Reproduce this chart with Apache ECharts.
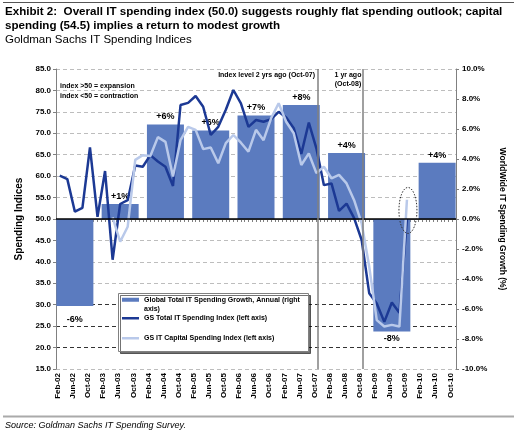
<!DOCTYPE html>
<html><head><meta charset="utf-8">
<script src="https://cdn.jsdelivr.net/npm/echarts@6/dist/echarts.min.js"></script>
<style>html,body{margin:0;padding:0;background:#fff}#c{width:517px;height:436px}</style>
</head><body><div id="c"></div>
<script>
// ---------- data ----------
const monthNames = ['Jan','Feb','Mar','Apr','May','Jun','Jul','Aug','Sep','Oct','Nov','Dec'];
const months = [];               // Feb-02 .. Nov-10
for (let y = 2; y <= 10; y++) for (let m = 0; m < 12; m++) {
  if (y === 2 && m === 0) continue;
  if (y === 10 && m === 11) continue;
  months.push(monthNames[m] + '-' + String(y).padStart(2, '0'));
}
// bi-monthly survey readings, Feb-02 .. Oct-09
const surveyMonths = months.filter((m, i) => i % 2 === 0 && i <= 92);
const totalIndex = [60.1,59.3,51.7,52.6,66.7,50.5,61.2,40.5,53.5,54.4,62.5,62.2,64.9,63.4,62.2,57.7,
  76.6,77.1,78.7,76.2,69.6,71.5,75.5,80.1,77.0,71.5,73.1,72.7,73.3,75.0,73.7,71.2,65.2,72.5,66.5,
  57.9,58.3,51.9,53.6,50.2,45.1,32.7,30.3,26.0,30.5,28.1,50.0];
const capitalMonths = surveyMonths.slice(7);   // Apr-03 .. Oct-09
const capitalIndex = [50.4,44.7,48.2,63.8,64.9,64.7,69.1,68.0,59.9,68.4,71.5,70.8,66.3,66.7,63.0,
  67.7,69.6,67.8,65.7,70.8,68.4,73.5,77.0,72.7,70.0,62.6,65.3,60.7,62.2,59.5,60.3,58.3,54.4,49.0,
  38.9,26.4,24.9,25.3,24.9,54.5];
const years = ['2002','2003','2004','2005','2006','2007','2008','2009','2010'];
const growth = [-5.8,1.0,6.3,5.9,6.9,7.6,4.4,-7.5,3.75];
const growthLabels = ['-6%','+1%','+6%','+6%','+7%','+8%','+4%','-8%','+4%'];
const markerMonths = ['Oct-07','Oct-08'];

const leftTicks = {min: 15, max: 85, interval: 5};
const rightTicks = {min: -10, max: 10, interval: 2};

// ---------- styles ----------
const FONT = '"Liberation Sans", Arial, sans-serif';
const BAR = '#5b7bbf', DARK = '#1c3994', LIGHT = '#b9c9ea';
const names = ['Global Total IT Spending Growth, Annual (right axis)',
  'GS Total IT Spending Index (left axis)', 'GS IT Capital Spending Index (left axis)'];

const endOfMonth = m => months.indexOf(m) + 1;
const barData = years.map((y, i) => ({
  value: [months.indexOf('Jul-' + y.slice(2)), growth[i]],
  label: {position: growth[i] >= 0 ? 'top' : 'bottom', distance: i === 0 ? 9 : 3}
}));
const totalData = surveyMonths.map((m, i) => [endOfMonth(m), totalIndex[i]]);
const capitalData = capitalMonths.map((m, i) => [endOfMonth(m), capitalIndex[i]]);

const split = ['#bdbdbd', '#333', '#333', '#333'];
for (let i = 0; i < 12; i++) split.push('#bdbdbd');

const chart = echarts.init(document.getElementById('c'), null, {renderer: 'canvas'});
const legendText = {fontFamily: FONT, fontSize: 7, fontWeight: 'bold', color: '#000', lineHeight: 9.5};
chart.setOption({
  animation: false,
  textStyle: {fontFamily: FONT},
  grid: {left: 56, right: 61, top: 69, bottom: 67, outerBoundsMode: 'none', containLabel: false},
  xAxis: [{
    type: 'category', data: months, boundaryGap: true,
    axisLine: {lineStyle: {color: '#808080', width: 1}},
    axisTick: {show: true, interval: 0, length: 3, lineStyle: {color: '#808080'}},
    axisLabel: {interval: 3, rotate: 90, fontSize: 8, fontWeight: 'bold', color: '#000', margin: 4, fontFamily: FONT},
    splitLine: {show: false}
  }, {
    type: 'value', min: 0, max: months.length, show: false
  }],
  yAxis: [{
    type: 'value', position: 'left', ...leftTicks,
    name: 'Spending Indices', nameLocation: 'middle', nameRotate: 90, nameGap: 29,
    nameTextStyle: {fontSize: 10, fontWeight: 'bold', color: '#000', fontFamily: FONT},
    axisLine: {show: true, lineStyle: {color: '#808080'}},
    axisTick: {show: true, length: 3, lineStyle: {color: '#808080'}},
    axisLabel: {formatter: v => v.toFixed(1), fontSize: 8, fontWeight: 'bold', color: '#000', margin: 5, fontFamily: FONT},
    splitLine: {show: true, lineStyle: {type: [4, 3], color: split, width: 1}}
  }, {
    type: 'value', position: 'right', ...rightTicks,
    name: 'WorldWide IT Spending Growth (%)', nameLocation: 'middle', nameRotate: -90, nameGap: 34,
    nameTextStyle: {fontSize: 8.5, fontWeight: 'bold', color: '#000', fontFamily: FONT},
    axisLine: {show: true, lineStyle: {color: '#808080'}},
    axisTick: {show: true, length: 3, lineStyle: {color: '#808080'}},
    axisLabel: {formatter: v => v.toFixed(1) + '%', fontSize: 8, fontWeight: 'bold', color: '#000', margin: 6, fontFamily: FONT},
    splitLine: {show: false}
  }],
  legend: [
    {data: [names[0]], left: 122, top: 285.5, padding: 0, icon: 'rect', itemWidth: 17, itemHeight: 4, itemGap: 0,
     formatter: () => '\nGlobal Total IT Spending Growth, Annual (right\naxis)', textStyle: legendText, z: 20, selectedMode: false},
    {data: [names[1]], left: 122, top: 313.5, padding: 0, icon: 'rect', itemWidth: 17, itemHeight: 2.5, textStyle: legendText, z: 20, selectedMode: false},
    {data: [names[2]], left: 122, top: 333.5, padding: 0, icon: 'rect', itemWidth: 17, itemHeight: 2.5, textStyle: legendText, z: 20, selectedMode: false}
  ],
  series: [{
    name: names[0], type: 'bar', xAxisIndex: 1, yAxisIndex: 1, data: barData, barWidth: 37,
    itemStyle: {color: BAR},
    label: {show: true, formatter: p => growthLabels[p.dataIndex], fontSize: 9, fontWeight: 'bold', color: '#000', fontFamily: FONT}
  }, {
    name: names[1], type: 'line', xAxisIndex: 1, yAxisIndex: 0, data: totalData,
    symbol: 'none', lineStyle: {color: DARK, width: 2.5}, itemStyle: {color: DARK}, z: 3
  }, {
    name: names[2], type: 'line', xAxisIndex: 1, yAxisIndex: 0, data: capitalData,
    symbol: 'none', lineStyle: {color: LIGHT, width: 2.5}, itemStyle: {color: LIGHT}, z: 4,
    markLine: {
      silent: true, symbol: 'none', label: {show: false}, animation: false,
      data: [
        {yAxis: 50, lineStyle: {color: '#000', width: 1.5, type: 'solid'}},
        ...markerMonths.map(m => ({xAxis: endOfMonth(m) + 0.4, lineStyle: {color: '#808080', width: 1.5, type: 'solid'}}))
      ]
    }
  }]
});

// annotations
const last = capitalData[capitalData.length - 1];
const ec = chart.convertToPixel({xAxisIndex: 1, yAxisIndex: 0}, [last[0], 52]);
const note = {fontFamily: FONT, fontSize: 7, fontWeight: 'bold', fill: '#000'};
chart.setOption({
  graphic: [
    {type: 'line', shape: {x1: 3, y1: 2.5, x2: 514, y2: 2.5}, style: {stroke: '#555', lineWidth: 1}},
    {type: 'text', left: 5, top: 5, style: {text: 'Exhibit 2:  Overall IT spending index (50.0) suggests roughly flat spending outlook; capital\nspending (54.5) implies a return to modest growth', fontFamily: FONT, fontSize: 11.6, fontWeight: 'bold', lineHeight: 14, fill: '#000'}},
    {type: 'text', left: 5, top: 34, style: {text: 'Goldman Sachs IT Spending Indices', fontFamily: FONT, fontSize: 11.5, fill: '#000'}},
    {type: 'rect', shape: {x: 118.5, y: 293.5, width: 190, height: 58}, z: 10,
     style: {fill: '#fff', stroke: '#808080', lineWidth: 1, shadowColor: 'rgba(0,0,0,0.55)', shadowOffsetX: 2, shadowOffsetY: 2, shadowBlur: 0}},
    {type: 'text', x: 60, y: 86, z: 10, style: {...note, text: 'index >50 = expansion', verticalAlign: 'middle'}},
    {type: 'text', x: 60, y: 96, z: 10, style: {...note, text: 'index <50 = contraction', verticalAlign: 'middle'}},
    {type: 'text', x: 315, y: 75, z: 10, style: {...note, text: 'Index level 2 yrs ago (Oct-07)', align: 'right', verticalAlign: 'middle'}},
    {type: 'text', x: 348, y: 75, z: 10, style: {...note, text: '1 yr ago', align: 'center', verticalAlign: 'middle'}},
    {type: 'text', x: 348, y: 84.5, z: 10, style: {...note, text: '(Oct-08)', align: 'center', verticalAlign: 'middle'}},
    {type: 'ellipse', shape: {cx: ec[0] + 1, cy: ec[1], rx: 9, ry: 23}, z: 10,
     style: {fill: 'none', stroke: '#333', lineWidth: 1, lineDash: [1.5, 1.5]}},
    {type: 'line', shape: {x1: 3, y1: 416.5, x2: 514, y2: 416.5}, style: {stroke: '#aaa', lineWidth: 2}},
    {type: 'text', left: 5, top: 421, style: {text: 'Source: Goldman Sachs IT Spending Survey.', fontFamily: FONT, fontSize: 9, fontStyle: 'italic', fill: '#000'}}
  ]
});
</script></body></html>
